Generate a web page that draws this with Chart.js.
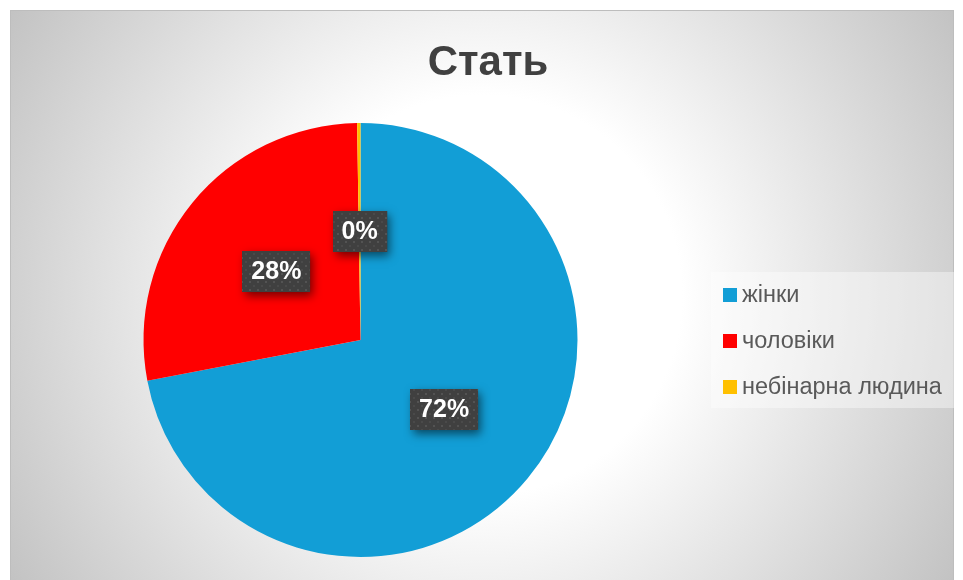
<!DOCTYPE html>
<html>
<head>
<meta charset="utf-8">
<script src="https://cdn.jsdelivr.net/npm/chart.js@4.4.1/dist/chart.umd.min.js"></script>
<style>
  html, body { margin: 0; padding: 0; background: #ffffff; }
  #wrap { width: 963px; height: 580px; position: relative; }
</style>
</head>
<body>
<div id="wrap"><canvas id="chart1" width="963" height="580"></canvas></div>
<script>
// дані діаграми
const TITLE = "Стать";
const categories = ["жінки", "чоловіки", "небінарна людина"];
const values = [72.0, 27.75, 0.25];
const colors = ["#129ED6", "#FF0000", "#FFC000"];

// фон: рамка з радіальним градієнтом
const bgPlugin = {
  id: "bg",
  beforeDraw(chart) {
    const c = chart.ctx;
    const x0 = 10, y0 = 10, x1 = 954, y1 = 580;
    c.save();
    const g = c.createRadialGradient(482, 295, 0, 482, 295, 555);
    g.addColorStop(0, "#ffffff");
    g.addColorStop(0.36, "#ffffff");
    g.addColorStop(1, "#c2c2c2");
    c.fillStyle = g;
    c.fillRect(x0, y0, x1 - x0, y1 - y0);
    c.strokeStyle = "#bdbdbd";
    c.lineWidth = 1;
    c.strokeRect(x0 + 0.5, y0 + 0.5, x1 - x0 - 1, y1 - y0);

    // заголовок
    c.fillStyle = "#404040";
    c.font = "bold 42px 'Liberation Sans', Arial, sans-serif";
    c.textAlign = "center";
    c.textBaseline = "alphabetic";
    c.fillText(TITLE, 488, 75);

    // легенда
    c.fillStyle = "rgba(255,255,255,0.4)";
    c.fillRect(711, 272, 244, 136);
    c.font = "23.5px 'Liberation Sans', Arial, sans-serif";
    c.textAlign = "left";
    c.textBaseline = "middle";
    chart.data.labels.forEach((lab, i) => {
      const y = 295 + i * 46;
      c.fillStyle = chart.data.datasets[0].backgroundColor[i];
      c.fillRect(723, y - 7, 14, 14);
      c.fillStyle = "#595959";
      c.fillText(lab, 742, y + 1);
    });
    c.restore();
  }
};

// підписи з відсотками
function makePattern(ctx) {
  const p = document.createElement("canvas");
  p.width = 8; p.height = 8;
  const pc = p.getContext("2d");
  pc.fillStyle = "#404040";
  pc.fillRect(0, 0, 8, 8);
  pc.fillStyle = "#535353";
  pc.fillRect(1, 1, 2, 2);
  pc.fillStyle = "#4a4a4a";
  pc.fillRect(5, 5, 2, 2);
  return ctx.createPattern(p, "repeat");
}

const labelPlugin = {
  id: "pctLabels",
  afterDatasetsDraw(chart) {
    const c = chart.ctx;
    const meta = chart.getDatasetMeta(0);
    const data = chart.data.datasets[0].data;
    const total = data.reduce((a, b) => a + b, 0);
    const pat = makePattern(c);
    c.save();
    c.font = "bold 25px 'Liberation Sans', Arial, sans-serif";
    meta.data.forEach((arc, i) => {
      const pos = arc.tooltipPosition();
      const txt = Math.round(data[i] / total * 100) + "%";
      const w = c.measureText(txt).width + 18;
      const h = 41;
      const bx = Math.round(pos.x - w / 2), by = Math.round(pos.y - h / 2);
      c.save();
      c.shadowColor = "rgba(0,0,0,0.55)";
      c.shadowBlur = 9;
      c.shadowOffsetX = 3;
      c.shadowOffsetY = 4;
      c.fillStyle = "#404040";
      c.fillRect(bx, by, w, h);
      c.restore();
      c.fillStyle = pat;
      c.fillRect(bx, by, w, h);
      c.fillStyle = "#ffffff";
      c.textAlign = "center";
      c.textBaseline = "middle";
      c.fillText(txt, pos.x, pos.y + 1);
    });
    c.restore();
  }
};

let ctx1 = document.getElementById("chart1").getContext("2d");
let chart1 = new Chart(ctx1, {
  type: "pie",
  data: {
    labels: categories,
    datasets: [
      {
        data: values,
        backgroundColor: colors,
        borderWidth: 0
      }
    ]
  },
  options: {
    responsive: false,
    animation: false,
    layout: { padding: { left: 143, right: 385, top: 123, bottom: 23 } },
    plugins: {
      legend: { display: false },
      title: { display: false },
      tooltip: { enabled: false }
    }
  },
  plugins: [bgPlugin, labelPlugin]
});
</script>
</body>
</html>
